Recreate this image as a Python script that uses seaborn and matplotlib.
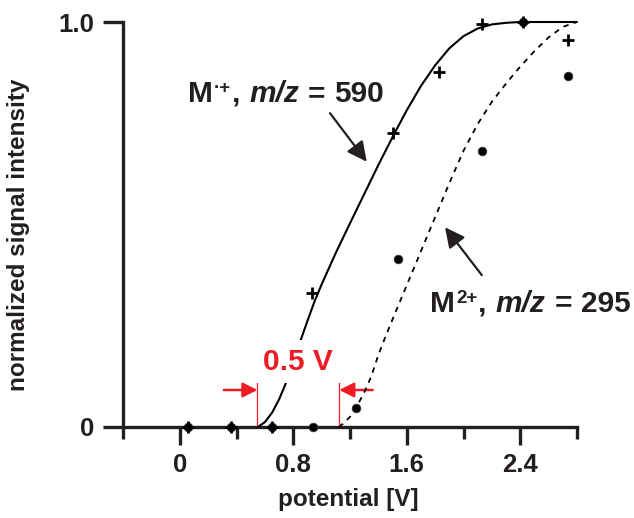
import matplotlib
matplotlib.use("Agg")
import matplotlib.pyplot as plt
import matplotlib.transforms as mtransforms
import seaborn as sns
import pandas as pd
from matplotlib.ticker import FixedLocator

# ---- data ----
potential_mono = [0.06, 0.36, 0.65, 0.93, 1.50, 1.83, 2.13, 2.42, 2.74]
intensity_mono = [0.0, 0.0, 0.0, 0.332, 0.725, 0.877, 0.995, 1.0, 0.956]

potential_di = [0.06, 0.36, 0.65, 0.94, 1.24, 1.54, 2.13, 2.42, 2.74]
intensity_di = [0.0, 0.0, 0.0, 0.0, 0.046, 0.415, 0.682, 1.0, 0.867]

fit_mono_x = [0.55, 0.60, 0.65, 0.70, 0.75, 0.80, 0.85, 0.90, 0.95, 1.00, 1.10, 1.20,
              1.30, 1.40, 1.50, 1.60, 1.70, 1.80, 1.90, 2.00, 2.10, 2.20, 2.30, 2.40,
              2.50, 2.60, 2.80]
fit_mono_y = [0.0, 0.012, 0.035, 0.068, 0.11, 0.16, 0.212, 0.262, 0.31, 0.352, 0.43, 0.503,
              0.575, 0.647, 0.716, 0.782, 0.842, 0.893, 0.935, 0.965, 0.984, 0.994, 0.998,
              1.0, 1.0, 1.0, 1.0]

fit_di_x = [1.12, 1.15, 1.20, 1.24, 1.30, 1.35, 1.40, 1.45, 1.50, 1.60, 1.70, 1.80,
            1.90, 2.00, 2.10, 2.20, 2.30, 2.40, 2.50, 2.60, 2.70, 2.80]
fit_di_y = [0.0, 0.008, 0.025, 0.046, 0.085, 0.125, 0.178, 0.223, 0.266, 0.35, 0.434, 0.518,
            0.602, 0.682, 0.748, 0.803, 0.848, 0.89, 0.928, 0.962, 0.988, 1.0]

x_major = [0, 0.8, 1.6, 2.4]
x_major_labels = ["0", "0.8", "1.6", "2.4"]
x_minor = [-0.4, 0.4, 1.2, 2.0, 2.8]
y_ticks = [0, 1.0]
y_tick_labels = ["0", "1.0"]

ion_mono, charge_mono, mz_mono = "M", "\u00b7+", "590"
ion_di, charge_di, mz_di = "M", "2+", "295"
gap_label = "0.5 V"

RED = "#ED1C24"
INK = "#231f20"

sns.set_theme(style="ticks")
plt.rcParams["font.family"] = ["Liberation Sans", "DejaVu Sans"]
plt.rcParams["font.weight"] = "bold"

fig = plt.figure(figsize=(6.34, 5.18), dpi=100)
ax = fig.add_axes([123 / 634, 1 - 427 / 518, 454 / 634, 405 / 518])

df_fit_m = pd.DataFrame({"x": fit_mono_x, "y": fit_mono_y})
df_fit_d = pd.DataFrame({"x": fit_di_x, "y": fit_di_y})
df_m = pd.DataFrame({"x": potential_mono, "y": intensity_mono})
df_d = pd.DataFrame({"x": potential_di, "y": intensity_di})

sns.lineplot(data=df_fit_d, x="x", y="y", ax=ax, color="black", lw=1.3,
             linestyle=(0, (3, 3)), clip_on=False, zorder=4)
sns.lineplot(data=df_fit_m, x="x", y="y", ax=ax, color="black", lw=1.5,
             clip_on=False, zorder=4)
sns.scatterplot(data=df_d, x="x", y="y", ax=ax, marker="o", s=38, color="black",
                edgecolor="#333333", linewidth=0.6, clip_on=False, zorder=6)
sns.scatterplot(data=df_m, x="x", y="y", ax=ax, marker="+", s=70, color="black",
                linewidth=2.0, clip_on=False, zorder=6)

ax.set_xlim(-0.4, 2.8)
ax.set_ylim(0, 1.0)
ax.xaxis.set_major_locator(FixedLocator(x_major))
ax.set_xticklabels(x_major_labels)
ax.xaxis.set_minor_locator(FixedLocator(x_minor))
ax.set_yticks(y_ticks)
ax.set_yticklabels(y_tick_labels)

for s in ["top", "right"]:
    ax.spines[s].set_visible(False)
for s in ["left", "bottom"]:
    ax.spines[s].set_linewidth(2.4)
    ax.spines[s].set_color(INK)
    ax.spines[s].set_zorder(3)

ax.tick_params(axis="x", which="major", length=13, width=2.4, color=INK,
               labelsize=18.5, pad=6, direction="out")
ax.tick_params(axis="x", which="minor", length=8.5, width=2.4, color=INK,
               direction="out")
ax.tick_params(axis="y", which="major", length=14.5, width=2.4, color=INK,
               labelsize=18.5, pad=6, direction="out")
for lab in ax.get_xticklabels() + ax.get_yticklabels():
    lab.set_fontweight("bold")
    lab.set_color(INK)

ax.set_xlabel("potential [V]", fontsize=17.5, fontweight="bold", color=INK)
ax.set_ylabel("normalized signal intensity", fontsize=17.5, fontweight="bold",
              color=INK)
ax.xaxis.set_label_coords(0.496, -0.15)
ax.yaxis.set_label_coords(-0.205, 0.474)

fig.canvas.draw()
renderer = fig.canvas.get_renderer()


def chain_text(x, y, pieces, color=INK):
    dx = 0.0
    for txt, size, style, rise, gap in pieces:
        tr = mtransforms.offset_copy(ax.transData, fig=fig, x=dx, y=rise, units="dots")
        t = ax.text(x, y, txt, fontsize=size, fontweight="bold", fontstyle=style,
                    transform=tr, ha="left", va="baseline", color=color)
        dx += t.get_window_extent(renderer=renderer).width + gap


def ion_label(x, y, ion, charge, mz):
    chain_text(x, y, [
        (ion, 21.5, "normal", 0, 1),
        (charge, 13.5, "normal", 8.5, 1),
        (",", 21.5, "normal", 0, 9),
        ("m/z", 21.5, "italic", 0, 9),
        ("=", 21.5, "normal", 0, 9),
        (mz, 21.5, "normal", 0, 0),
    ])


ion_label(0.056, 0.803, ion_mono, charge_mono, mz_mono)
ion_label(1.764, 0.285, ion_di, charge_di, mz_di)

ax.annotate("", xy=(1.318, 0.655), xytext=(1.059, 0.775),
            arrowprops=dict(arrowstyle="-|>", lw=1.6, color=INK,
                            mutation_scale=30, shrinkA=0, shrinkB=0))
ax.annotate("", xy=(1.870, 0.493), xytext=(2.129, 0.375),
            arrowprops=dict(arrowstyle="-|>", lw=1.6, color=INK,
                            mutation_scale=30, shrinkA=0, shrinkB=0))

# red gap marker
ax.text(0.833, 0.141, gap_label, fontsize=21.5, fontweight="bold", ha="center",
        va="baseline", color=RED, zorder=7,
        bbox=dict(boxstyle="square,pad=0.25", facecolor="white", edgecolor="none"))
ax.plot([0.548, 0.548], [0.005, 0.114], color=RED, lw=0.9, zorder=5)
ax.plot([1.124, 1.124], [0.005, 0.114], color=RED, lw=0.9, zorder=5)
ax.annotate("", xy=(0.548, 0.0914), xytext=(0.311, 0.0914),
            arrowprops=dict(arrowstyle="-|>", lw=1.8, color=RED,
                            mutation_scale=22, shrinkA=0, shrinkB=0))
ax.annotate("", xy=(1.124, 0.0914), xytext=(1.36, 0.0914),
            arrowprops=dict(arrowstyle="-|>", lw=1.8, color=RED,
                            mutation_scale=22, shrinkA=0, shrinkB=0))

fig.savefig("out.png", dpi=100)
